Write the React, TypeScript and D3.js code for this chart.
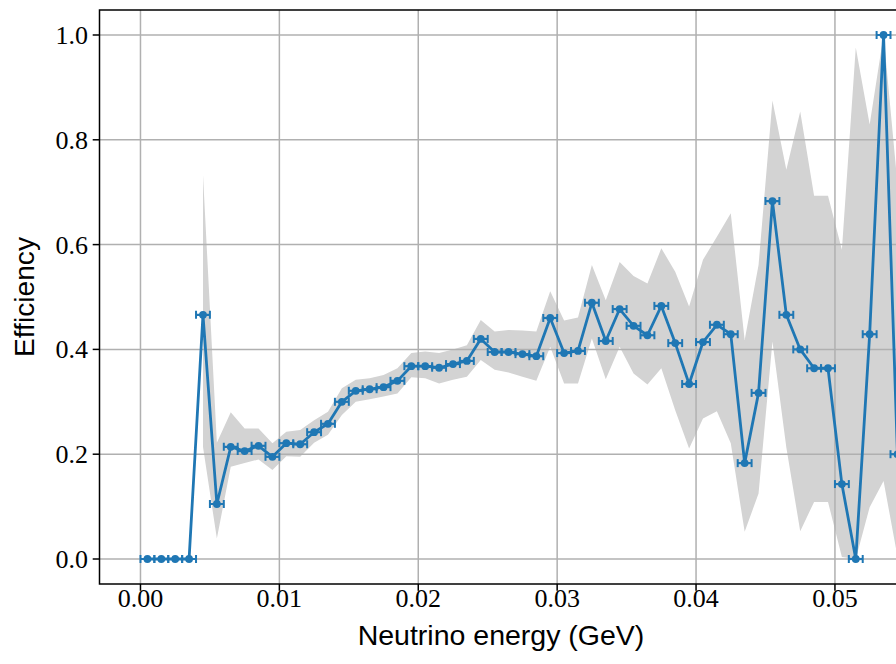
import React from "react";
import * as d3 from "d3";

// Bin centres of the neutrino energy histogram (GeV)
const energyCenters: number[] = [
  0.0005, 0.0015, 0.0025, 0.0035, 0.0045, 0.0055, 0.0065, 0.0075, 0.0085, 0.0095,
  0.0105, 0.0115, 0.0125, 0.0135, 0.0145, 0.0155, 0.0165, 0.0175, 0.0185, 0.0195,
  0.0205, 0.0215, 0.0225, 0.0235, 0.0245, 0.0255, 0.0265, 0.0275, 0.0285, 0.0295,
  0.0305, 0.0315, 0.0325, 0.0335, 0.0345, 0.0355, 0.0365, 0.0375, 0.0385, 0.0395,
  0.0405, 0.0415, 0.0425, 0.0435, 0.0445, 0.0455, 0.0465, 0.0475, 0.0485, 0.0495,
  0.0505, 0.0515, 0.0525, 0.0535, 0.0545,
];

// Half bin width, drawn as horizontal error bars
const binHalfWidth = 0.0005;

// Selection efficiency per bin
const efficiency: number[] = [
  0, 0, 0, 0, 0.466, 0.105, 0.214, 0.206, 0.216, 0.195,
  0.221, 0.219, 0.242, 0.258, 0.3, 0.321, 0.324, 0.328, 0.34, 0.368,
  0.368, 0.365, 0.372, 0.378, 0.42, 0.395, 0.395, 0.391, 0.387, 0.46,
  0.393, 0.397, 0.489, 0.416, 0.477, 0.445, 0.427, 0.483, 0.412, 0.334,
  0.414, 0.447, 0.429, 0.183, 0.317, 0.683, 0.466, 0.4, 0.364, 0.364,
  0.143, 0.0, 0.429, 1.0, 0.2,
];

// Lower edge of the confidence band (null where the bin is empty)
const bandLow: (number | null)[] = [
  null, null, null, null, 0.214, 0.039, 0.176, 0.183, 0.19, 0.17,
  0.196, 0.195, 0.222, 0.237, 0.275, 0.3, 0.305, 0.31, 0.316, 0.347,
  0.345, 0.335, 0.342, 0.348, 0.38, 0.361, 0.356, 0.348, 0.34, 0.405,
  0.335, 0.335, 0.421, 0.343, 0.405, 0.354, 0.333, 0.364, 0.284, 0.211,
  0.268, 0.282, 0.221, 0.052, 0.125, 0.415, 0.213, 0.053, 0.109, 0.109,
  0.004, 0.0, 0.099, 0.149, 0.005,
];

// Upper edge of the confidence band
const bandHigh: (number | null)[] = [
  null, null, null, null, 0.734, 0.222, 0.28, 0.249, 0.249, 0.221,
  0.243, 0.246, 0.265, 0.281, 0.326, 0.342, 0.345, 0.351, 0.364, 0.393,
  0.396, 0.393, 0.4, 0.408, 0.456, 0.434, 0.437, 0.436, 0.434, 0.511,
  0.455, 0.461, 0.561, 0.494, 0.567, 0.54, 0.526, 0.593, 0.548, 0.482,
  0.571, 0.615, 0.66, 0.418, 0.561, 0.875, 0.743, 0.854, 0.693, 0.693,
  0.59, 0.976, 0.829, 1.0, 0.716,
];

const xTicks: number[] = [0, 0.01, 0.02, 0.03, 0.04, 0.05];
const xTickLabels: string[] = ["0.00", "0.01", "0.02", "0.03", "0.04", "0.05"];
const yTicks: number[] = [0, 0.2, 0.4, 0.6, 0.8, 1.0];
const yTickLabels: string[] = ["0.0", "0.2", "0.4", "0.6", "0.8", "1.0"];

const W = 896;
const H = 664;
const plot = { left: 99.5, right: 903, top: 10, bottom: 584 };

const BLUE = "#1f77b4";
const tickFont = "'Liberation Serif', 'DejaVu Serif', serif";
const labelFont = "'Liberation Sans', Arial, sans-serif";

export default function App() {
  const x = d3.scaleLinear().domain([-0.00295, 0.0549]).range([plot.left, plot.right]);
  const y = d3.scaleLinear().domain([-0.0477, 1.0477]).range([plot.bottom, plot.top]);

  const rows = energyCenters.map((e, i) => ({
    e,
    eff: efficiency[i],
    lo: bandLow[i],
    hi: bandHigh[i],
  }));

  const band = d3
    .area<(typeof rows)[number]>()
    .defined((d) => d.lo !== null && d.hi !== null)
    .x((d) => x(d.e))
    .y0((d) => y(d.lo as number))
    .y1((d) => y(d.hi as number));

  const line = d3
    .line<(typeof rows)[number]>()
    .x((d) => x(d.e))
    .y((d) => y(d.eff));

  const tickLen = 6.8;

  return (
    <svg
      width={W}
      height={H}
      style={{ position: "absolute", left: 0, top: 0, background: "#fff" }}
    >
      <defs>
        <clipPath id="plot-area">
          <rect
            x={plot.left}
            y={plot.top}
            width={plot.right - plot.left}
            height={plot.bottom - plot.top}
          />
        </clipPath>
      </defs>
      <rect x={0} y={0} width={W} height={H} fill="#fff" />

      <g clipPath="url(#plot-area)">
        {/* confidence band */}
        <path d={band(rows) ?? ""} fill="#d3d3d3" stroke="none" />

        {/* grid */}
        {xTicks.map((t) => (
          <line
            key={"gx" + t}
            x1={x(t)}
            x2={x(t)}
            y1={plot.top}
            y2={plot.bottom}
            stroke="#b0b0b0"
            strokeWidth={1.5}
          />
        ))}
        {yTicks.map((t) => (
          <line
            key={"gy" + t}
            x1={plot.left}
            x2={plot.right}
            y1={y(t)}
            y2={y(t)}
            stroke="#b0b0b0"
            strokeWidth={1.5}
          />
        ))}

        {/* efficiency curve with bin-width error bars */}
        <path d={line(rows) ?? ""} fill="none" stroke={BLUE} strokeWidth={2.8} strokeLinejoin="round" />
        {rows.map((d, i) => {
          const x0 = x(d.e - binHalfWidth);
          const x1 = x(d.e + binHalfWidth);
          const yy = y(d.eff);
          return (
            <g key={"pt" + i}>
              <line x1={x0} x2={x1} y1={yy} y2={yy} stroke={BLUE} strokeWidth={2.2} />
              <line x1={x0} x2={x0} y1={yy - 4} y2={yy + 4} stroke={BLUE} strokeWidth={2} />
              <line x1={x1} x2={x1} y1={yy - 4} y2={yy + 4} stroke={BLUE} strokeWidth={2} />
              <circle cx={x(d.e)} cy={yy} r={3.9} fill={BLUE} />
            </g>
          );
        })}
      </g>

      {/* spines */}
      <rect
        x={plot.left}
        y={plot.top}
        width={plot.right - plot.left}
        height={plot.bottom - plot.top}
        fill="none"
        stroke="#000"
        strokeWidth={1.5}
      />

      {/* x axis ticks */}
      {xTicks.map((t, i) => (
        <g key={"tx" + t}>
          <line
            x1={x(t)}
            x2={x(t)}
            y1={plot.bottom}
            y2={plot.bottom + tickLen}
            stroke="#000"
            strokeWidth={1.5}
          />
          <text
            x={x(t)}
            y={607}
            textAnchor="middle"
            fontFamily={tickFont}
            fontSize={26}
            fill="#000"
          >
            {xTickLabels[i]}
          </text>
        </g>
      ))}

      {/* y axis ticks */}
      {yTicks.map((t, i) => (
        <g key={"ty" + t}>
          <line
            x1={plot.left - tickLen}
            x2={plot.left}
            y1={y(t)}
            y2={y(t)}
            stroke="#000"
            strokeWidth={1.5}
          />
          <text
            x={88}
            y={y(t) + 9}
            textAnchor="end"
            fontFamily={tickFont}
            fontSize={26}
            fill="#000"
          >
            {yTickLabels[i]}
          </text>
        </g>
      ))}

      <text
        x={501}
        y={645}
        textAnchor="middle"
        fontFamily={labelFont}
        fontSize={28.5}
        fill="#000"
      >
        Neutrino energy (GeV)
      </text>
      <text
        transform={`translate(34, ${(plot.top + plot.bottom) / 2}) rotate(-90)`}
        textAnchor="middle"
        fontFamily={labelFont}
        fontSize={28.2}
        fill="#000"
      >
        Efficiency
      </text>
    </svg>
  );
}
